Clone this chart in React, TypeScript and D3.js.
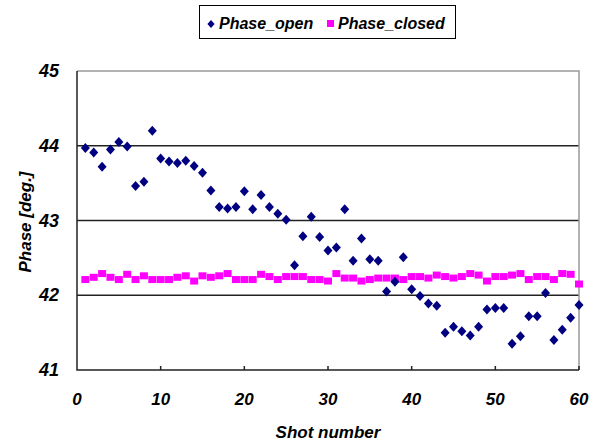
import React, { useRef, useEffect } from "react";
import * as d3 from "d3";

// shot numbers 1..60
const shots = [
  1, 2, 3, 4, 5, 6, 7, 8, 9, 10, 11, 12, 13, 14, 15, 16, 17, 18, 19, 20,
  21, 22, 23, 24, 25, 26, 27, 28, 29, 30, 31, 32, 33, 34, 35, 36, 37, 38, 39, 40,
  41, 42, 43, 44, 45, 46, 47, 48, 49, 50, 51, 52, 53, 54, 55, 56, 57, 58, 59, 60,
];

const phaseOpen = [
  43.97, 43.91, 43.72, 43.95, 44.05, 43.99, 43.46, 43.52, 44.2, 43.83,
  43.79, 43.77, 43.8, 43.73, 43.64, 43.4, 43.18, 43.16, 43.18, 43.39,
  43.15, 43.34, 43.18, 43.09, 43.01, 42.4, 42.79, 43.05, 42.78, 42.6,
  42.64, 43.15, 42.46, 42.76, 42.48, 42.46, 42.05, 42.18, 42.51, 42.08,
  41.99, 41.89, 41.86, 41.5, 41.58, 41.52, 41.46, 41.58, 41.81, 41.83,
  41.83, 41.35, 41.45, 41.72, 41.72, 42.03, 41.4, 41.54, 41.7, 41.87,
];

const phaseClosed = [
  42.21, 42.24, 42.29, 42.24, 42.21, 42.28, 42.21, 42.26, 42.21, 42.21,
  42.21, 42.24, 42.26, 42.19, 42.26, 42.24, 42.26, 42.29, 42.21, 42.21,
  42.21, 42.28, 42.25, 42.21, 42.25, 42.25, 42.25, 42.21, 42.21, 42.19,
  42.29, 42.23, 42.23, 42.19, 42.21, 42.23, 42.23, 42.23, 42.21, 42.25,
  42.25, 42.23, 42.27, 42.25, 42.23, 42.25, 42.29, 42.27, 42.19, 42.25,
  42.25, 42.27, 42.29, 42.21, 42.25, 42.25, 42.21, 42.29, 42.28, 42.15,
];

const xTicks = [0, 10, 20, 30, 40, 50, 60];
const yTicks = [41, 42, 43, 44, 45];

const FONT = "'Liberation Sans', Arial, sans-serif";

const App = () => {
  const svgRef = useRef<SVGSVGElement>(null);
  const width = 595;
  const height = 441;

  useEffect(() => {
    const svg = d3.select(svgRef.current);
    svg.selectAll("*").remove();

    const left = 77;
    const right = 579;
    const top = 71;
    const bottom = 370;

    const x = d3.scaleLinear().domain([0, 60]).range([left, right]);
    const y = d3.scaleLinear().domain([41, 45]).range([bottom, top]);

    // gridlines
    svg
      .append("g")
      .selectAll("line")
      .data([42, 43, 44])
      .join("line")
      .attr("x1", left)
      .attr("x2", right)
      .attr("y1", (d) => y(d))
      .attr("y2", (d) => y(d))
      .attr("stroke", "#222")
      .attr("stroke-width", 1.5);

    // plot border top/right (gray)
    svg
      .append("path")
      .attr("d", `M${left},${top}H${right}V${bottom}`)
      .attr("fill", "none")
      .attr("stroke", "#999")
      .attr("stroke-width", 1.5);

    // axes
    svg
      .append("path")
      .attr("d", `M${left},${top}V${bottom}H${right}`)
      .attr("fill", "none")
      .attr("stroke", "#222")
      .attr("stroke-width", 1.5);

    // x ticks (inward)
    svg
      .append("g")
      .selectAll("line")
      .data(xTicks.slice(1))
      .join("line")
      .attr("x1", (d) => x(d))
      .attr("x2", (d) => x(d))
      .attr("y1", bottom)
      .attr("y2", bottom - 4)
      .attr("stroke", "#222")
      .attr("stroke-width", 1.5);

    const bold = (sel: any, size: number) =>
      sel
        .attr("font-family", FONT)
        .attr("font-weight", "bold")
        .attr("font-style", "italic")
        .attr("font-size", size)
        .attr("fill", "#000");

    // tick labels
    bold(
      svg
        .append("g")
        .selectAll("text")
        .data(xTicks)
        .join("text")
        .attr("x", (d) => x(d))
        .attr("y", 405)
        .attr("text-anchor", "middle")
        .text((d) => d),
      17
    );

    bold(
      svg
        .append("g")
        .selectAll("text")
        .data(yTicks)
        .join("text")
        .attr("x", 59)
        .attr("y", (d) => y(d) + 6)
        .attr("text-anchor", "end")
        .text((d) => d),
      18
    );

    // axis titles
    bold(
      svg
        .append("text")
        .attr("x", 328)
        .attr("y", 438)
        .attr("text-anchor", "middle")
        .text("Shot number"),
      17
    );

    bold(
      svg
        .append("text")
        .attr("transform", `translate(31,222) rotate(-90)`)
        .attr("text-anchor", "middle")
        .text("Phase [deg.]"),
      17
    );

    // Phase_closed squares
    svg
      .append("g")
      .selectAll("rect")
      .data(phaseClosed)
      .join("rect")
      .attr("x", (d, i) => x(shots[i]) - 4)
      .attr("y", (d) => y(d) - 3.5)
      .attr("width", 8)
      .attr("height", 7)
      .attr("fill", "#FF00FF");

    // Phase_open diamonds
    const diamond = (cx: number, cy: number, r = 5) =>
      `M${cx},${cy - r}L${cx + r * 0.9},${cy}L${cx},${cy + r}L${cx - r * 0.9},${cy}Z`;
    svg
      .append("g")
      .selectAll("path")
      .data(phaseOpen)
      .join("path")
      .attr("d", (d, i) => diamond(x(shots[i]), y(d)))
      .attr("fill", "#000080");

    // legend
    const lg = svg.append("g");
    lg.append("rect")
      .attr("x", 199.5)
      .attr("y", 5.5)
      .attr("width", 256)
      .attr("height", 33)
      .attr("fill", "#fff")
      .attr("stroke", "#000")
      .attr("stroke-width", 1);
    lg.append("path").attr("d", diamond(211, 24, 4)).attr("fill", "#000080");
    bold(lg.append("text").attr("x", 219).attr("y", 29).text("Phase_open"), 16);
    lg.append("rect")
      .attr("x", 327)
      .attr("y", 20)
      .attr("width", 7)
      .attr("height", 7)
      .attr("fill", "#FF00FF");
    bold(lg.append("text").attr("x", 338).attr("y", 29).text("Phase_closed"), 16);
  }, []);

  return (
    <div style={{ position: "absolute", left: 0, top: 0 }}>
      <svg ref={svgRef} width={width} height={height} style={{ display: "block", background: "#fff" }}></svg>
    </div>
  );
};

export default App;
